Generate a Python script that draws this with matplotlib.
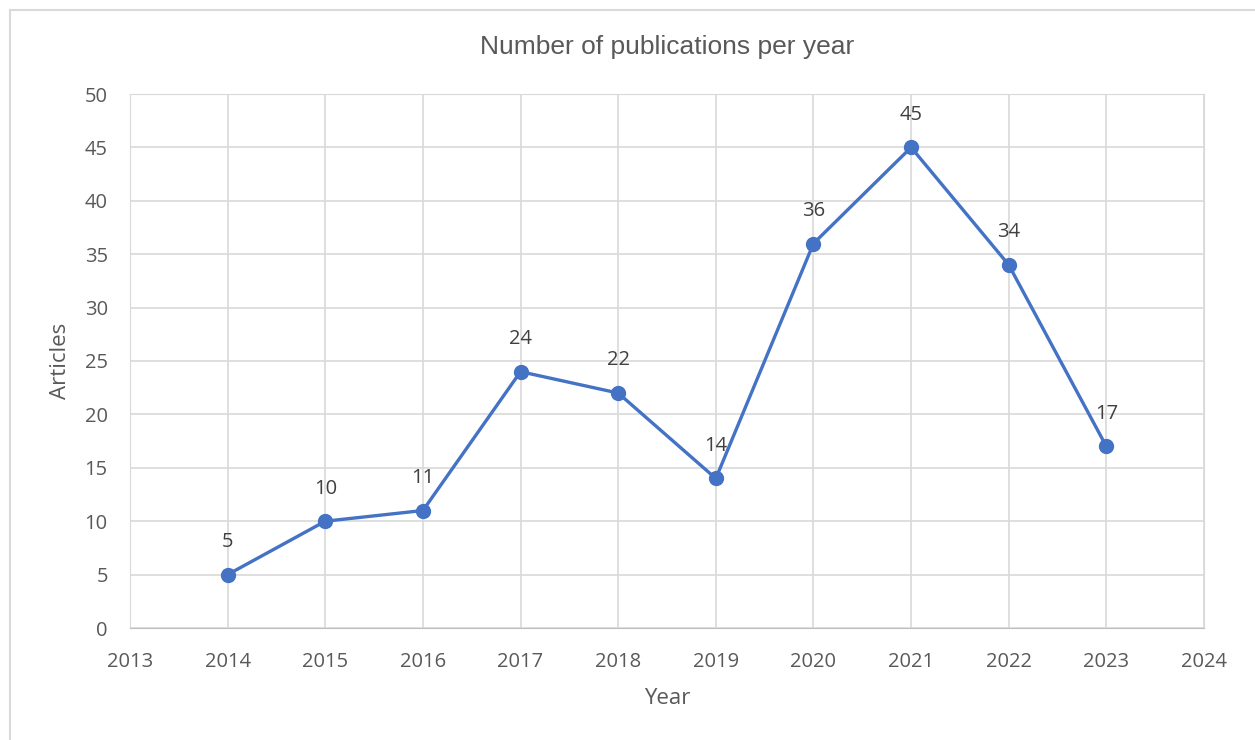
import matplotlib.pyplot as plt
from matplotlib.patches import Rectangle

years = [2014, 2015, 2016, 2017, 2018, 2019, 2020, 2021, 2022, 2023]
articles = [5, 10, 11, 24, 22, 14, 36, 45, 34, 17]

txt = '#595959'
grid = '#D9D9D9'
blue = '#4472C4'

plt.rcParams['font.family'] = ['Open Sans', 'DejaVu Sans']

fig = plt.figure(figsize=(12.55, 7.4), dpi=100)
fig.patches.append(Rectangle((10/1255, -0.1), 1.2, 1 - 10/740 + 0.1, transform=fig.transFigure,
                             fill=False, edgecolor=grid, lw=1.5))
ax = fig.add_axes([130/1255, 1 - 628/740, 1074/1255, 534/740])

ax.plot(years, articles, color=blue, lw=2.4, marker='o', ms=10, zorder=3)
for x, y in zip(years, articles):
    ax.annotate(str(y), (x, y), xytext=(0, 23.5), textcoords='offset points',
                ha='center', va='center', fontsize=14.5, color='#404040')

ax.set_xlim(2013, 2024)
ax.set_ylim(0, 50)
ax.set_xticks(range(2013, 2025))
ax.set_yticks(range(0, 51, 5))
ax.grid(True, color=grid, lw=1.2)
ax.set_axisbelow(True)
for s in ['top', 'right', 'left']:
    ax.spines[s].set_color(grid)
ax.spines['bottom'].set_color('#BFBFBF')
ax.tick_params(length=0, labelsize=14.5, colors=txt)
ax.tick_params(axis='x', pad=17)
ax.tick_params(axis='y', pad=16)

ax.set_xlabel('Year', fontsize=16, color=txt, labelpad=12)
ax.set_ylabel('Articles', fontsize=16, color=txt, labelpad=10)
ax.set_title('Number of publications per year', fontsize=19, color=txt,
             family=['Liberation Sans', 'DejaVu Sans'], pad=28.5)

fig.savefig('out.png', dpi=100)
